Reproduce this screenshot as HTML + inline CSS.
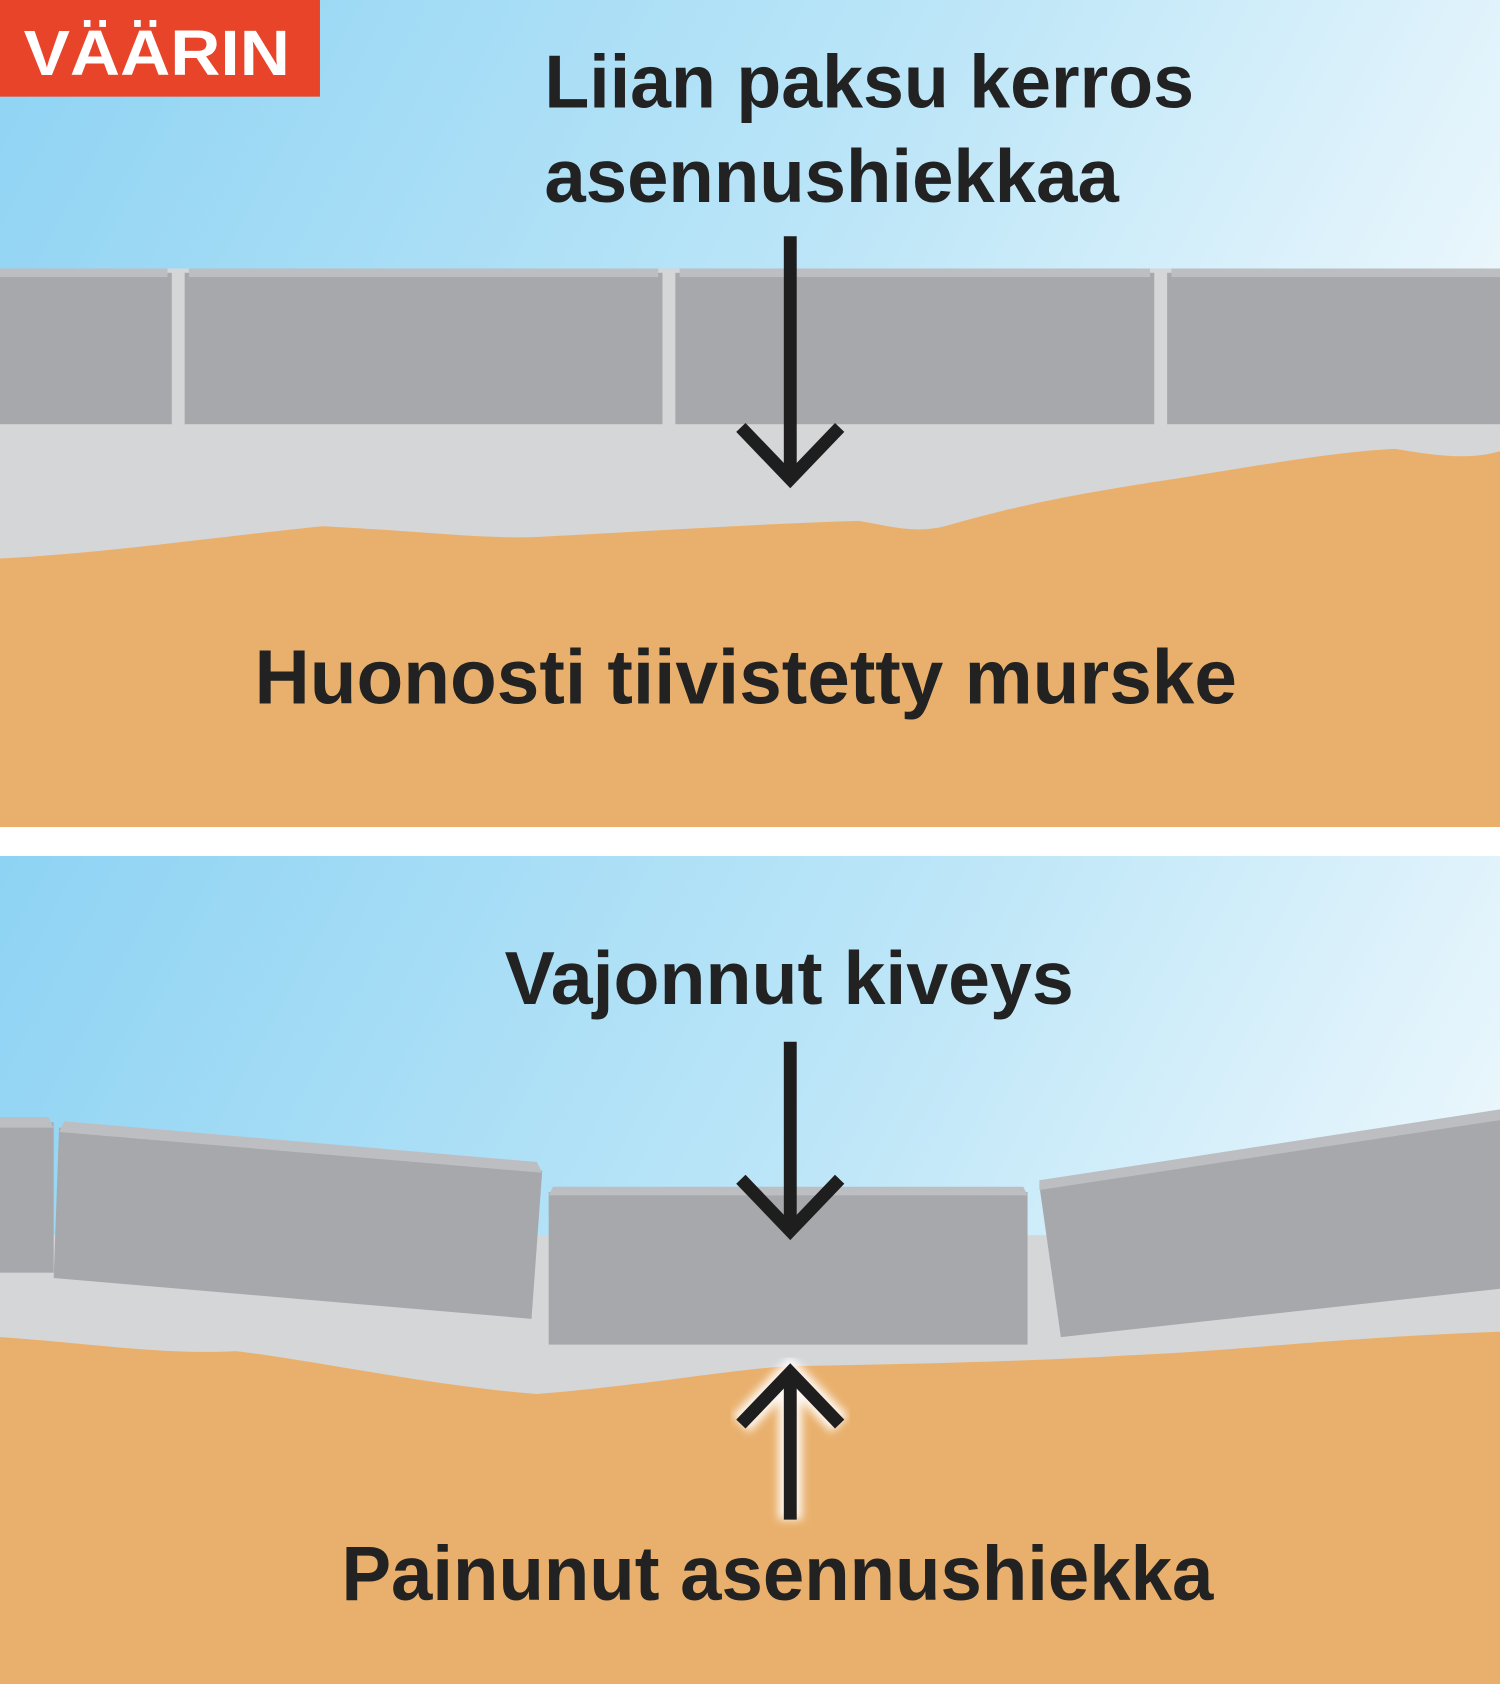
<!DOCTYPE html>
<html><head><meta charset="utf-8"><style>html,body{margin:0;padding:0;background:#fff}svg{display:block}</style></head>
<body>
<svg width="1500" height="1684" viewBox="0 0 1397 1568" preserveAspectRatio="none" xmlns="http://www.w3.org/2000/svg" font-family="Liberation Sans, sans-serif" font-weight="bold">
<defs>
<linearGradient id="sky" x1="0" y1="0" x2="1" y2="0.3">
<stop offset="0" stop-color="#8ed3f3"/><stop offset="0.6" stop-color="#bde6f8"/><stop offset="1" stop-color="#e9f6fc"/>
</linearGradient>
<filter id="glow"><feGaussianBlur stdDeviation="4"/></filter>
</defs>
<!-- top panel -->
<rect x="0" y="0" width="1397" height="770" fill="url(#sky)"/>
<rect x="0" y="250" width="1397" height="300" fill="#d5d6d8"/>
<path d="M0,520 C100,515 200,500 300,490 C400,495 450,502 500,500 C600,495 700,488 800,485 C830,490 850,497 880,490 C950,470 1000,460 1100,445 C1180,432 1250,420 1300,418 C1340,425 1370,428 1397,420 L1397,770 L0,770 Z" fill="#e9b06d"/>
<g fill="#a7a8ac">
<rect x="0" y="254" width="160" height="141"/>
<rect x="172" y="254" width="445" height="141"/>
<rect x="629" y="254" width="446" height="141"/>
<rect x="1087" y="254" width="310" height="141"/>
</g>
<g fill="#bdbec1">
<rect x="0" y="250" width="156" height="8"/>
<rect x="176" y="250" width="437" height="8"/>
<rect x="633" y="250" width="438" height="8"/>
<rect x="1091" y="250" width="306" height="8"/>
</g>
<rect x="0" y="0" width="298" height="90" fill="#e8442a"/>
<text x="22" y="70" font-size="60" fill="#fff" textLength="248" lengthAdjust="spacingAndGlyphs">VÄÄRIN</text>
<g fill="#222">
<text x="507" y="100" font-size="70" textLength="605" lengthAdjust="spacingAndGlyphs">Liian paksu kerros</text>
<text x="507" y="188" font-size="70" textLength="535" lengthAdjust="spacingAndGlyphs">asennushiekkaa</text>
<text x="237" y="655" font-size="72" textLength="915" lengthAdjust="spacingAndGlyphs">Huonosti tiivistetty murske</text>
</g>
<g stroke="#1e1e1e" stroke-width="12" fill="none">
<line x1="736" y1="220" x2="736" y2="448"/>
<polyline points="690,398 736,446 782,398"/>
</g>
<!-- bottom panel -->
<rect x="0" y="797" width="1397" height="771" fill="url(#sky)"/>
<path d="M0,1150 L1397,1150 L1397,1330 L0,1330 Z" fill="#d5d6d8"/>
<path d="M0,1245 C80,1250 150,1262 220,1258 C300,1268 400,1290 500,1298 C600,1290 680,1275 736,1272 C850,1270 950,1268 1050,1262 C1150,1258 1250,1245 1397,1240 L1397,1568 L0,1568 Z" fill="#e9b06d"/>
<path d="M0,1150 C100,1180 200,1220 300,1230 L0,1240 Z" fill="#d5d6d8"/>
<g fill="#a7a8ac">
<rect x="0" y="1045" width="50" height="140"/>
<polygon points="55,1050 505,1090 495,1228 50,1190"/>
<rect x="511" y="1110" width="446" height="142"/>
<polygon points="968,1104 1397,1040 1397,1200 988,1245"/>
</g>
<g fill="#bdbec1">
<polygon points="0,1040 45,1040 50,1050 0,1050"/>
<polygon points="60,1044 500,1082 505,1092 55,1054"/>
<polygon points="515,1105 953,1105 957,1113 511,1113"/>
<polygon points="968,1099 1397,1033 1397,1043 968,1108"/>
</g>
<g fill="#222">
<text x="470" y="935" font-size="70" textLength="530" lengthAdjust="spacingAndGlyphs">Vajonnut kiveys</text>
<text x="318" y="1490" font-size="72" textLength="812" lengthAdjust="spacingAndGlyphs">Painunut asennushiekka</text>
</g>
<g stroke="#1e1e1e" stroke-width="12" fill="none">
<line x1="736" y1="970" x2="736" y2="1148"/>
<polyline points="690,1098 736,1146 782,1098"/>
</g>
<g stroke="#fff" stroke-width="22" fill="none" filter="url(#glow)" opacity="0.9">
<line x1="736" y1="1415" x2="736" y2="1280"/>
<polyline points="690,1326 736,1278 782,1326"/>
</g>
<g stroke="#1e1e1e" stroke-width="12" fill="none">
<line x1="736" y1="1415" x2="736" y2="1280"/>
<polyline points="690,1326 736,1278 782,1326"/>
</g>
</svg>
</body></html>
